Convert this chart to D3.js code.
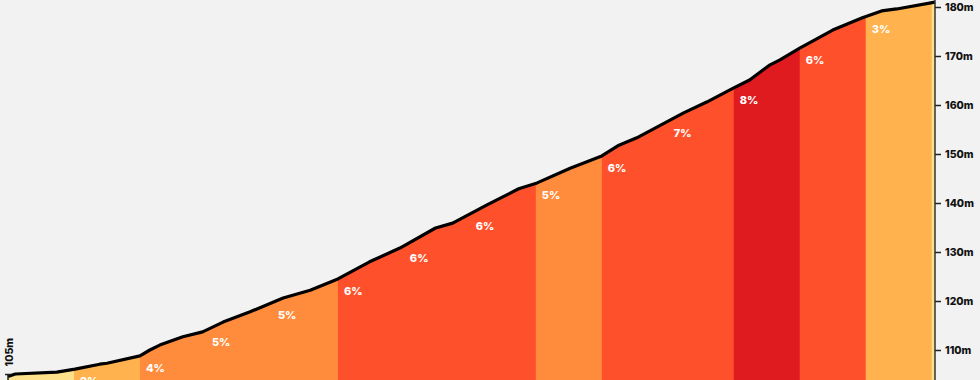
<!DOCTYPE html>
<html>
<head>
<meta charset="utf-8">
<script src="https://cdn.jsdelivr.net/npm/d3@7"></script>
<style>
  body { margin: 0; background: #f2f2f2; }
  svg { display: block; }
</style>
</head>
<body>
<div id="container"></div>
<script>
// profile: distance (km) and elevation (m)
let distKm = [0, 0.011, 0.074, 0.1015, 0.139, 0.15, 0.2, 0.215, 0.23, 0.265, 0.295, 0.326, 0.367, 0.417, 0.458, 0.5,
  0.548, 0.594, 0.648, 0.674, 0.726, 0.774, 0.802, 0.852, 0.9, 0.926, 0.953, 1.024, 1.059, 1.1, 1.124, 1.155,
  1.17, 1.2, 1.25, 1.295, 1.324, 1.347, 1.405];
let elevM = [104.6, 105.1, 105.5, 106.1, 107.1, 107.3, 108.8, 110.0, 111.0, 112.7, 113.7, 115.7, 117.8, 120.6, 122.2, 124.5,
  128.0, 130.8, 134.9, 135.9, 139.6, 142.9, 144.1, 147.1, 149.6, 151.8, 153.3, 158.4, 160.6, 163.5, 165.1, 168.2,
  169.2, 171.6, 175.3, 177.8, 179.2, 179.6, 181.0];

// 100 m sections and their gradient labels
let sectionStart = [0, 0.1, 0.2, 0.3, 0.4, 0.5, 0.6, 0.7, 0.8, 0.9, 1.0, 1.1, 1.2, 1.3, 1.4];
let sectionGrade = [1, 2, 4, 5, 5, 6, 6, 6, 5, 6, 7, 8, 6, 3, 1];

let elevTicks = [110, 120, 130, 140, 150, 160, 170, 180];
let startElev = 105;

let width = 980, height = 380;

let viz = d3.select("#container")
  .append("svg")
    .attr("width", width)
    .attr("height", height)
    .style("background-color", "#f2f2f2");

let x = d3.scaleLinear().domain([0, 1.405]).range([8, 935]);
let y = d3.scaleLinear().domain([110, 180]).range([350, 7]);

function gradeColor(g){
  if (g <= 1) return "#ffe08a";
  if (g <= 3) return "#ffb24d";
  if (g <= 5) return "#ff8c3c";
  if (g <= 7) return "#ff502c";
  return "#e01b1f";
}

let profile = distKm.map((d, i) => [d, elevM[i]]);
let elevAt = d3.scaleLinear().domain(distKm).range(elevM);

// <---------area clip---------->
let area = d3.area()
  .x(d => x(d[0]))
  .y0(height + 5)
  .y1(d => y(d[1]));

viz.append("clipPath")
    .attr("id", "profileClip")
  .append("path")
    .attr("d", area(profile));

// <---------sections---------->
let sections = sectionStart.map((s, i) => ({
  start: s,
  end: i < sectionStart.length - 1 ? sectionStart[i + 1] : 1.405,
  grade: sectionGrade[i]
}));

viz.append("g")
    .attr("clip-path", "url(#profileClip)")
  .selectAll("rect")
  .data(sections).enter()
  .append("rect")
    .attr("x", d => x(d.start))
    .attr("y", 0)
    .attr("width", d => x(d.end) - x(d.start) + 0.5)
    .attr("height", height + 5)
    .attr("fill", d => gradeColor(d.grade));

// <---------profile line---------->
viz.append("path")
  .attr("d", d3.line().x(d => x(d[0])).y(d => y(d[1]))(profile))
  .attr("fill", "none")
  .attr("stroke", "#000")
  .attr("stroke-width", 3.2)
  .attr("stroke-linejoin", "round");

// <---------gradient labels---------->
// labels whose glyphs would fall wholly below the frame are skipped
let labelY = d => y(elevAt(d.start)) + 16;

viz.append("g")
  .selectAll("text")
  .data(sections.filter(d => x(d.end) - x(d.start) > 20 && labelY(d) - 8 < height)).enter()
  .append("text")
    .attr("x", d => x(d.start) + 6)
    .attr("y", labelY)
    .text(d => d.grade + "%")
    .style("font-family", "Inter, 'DejaVu Sans', sans-serif")
    .style("font-weight", 800)
    .style("font-size", "11px")
    .style("fill", "#fff");

// <---------right axis---------->
let axisR = viz.append("g")
  .attr("transform", "translate(935,0)")
  .call(d3.axisRight(y).tickValues(elevTicks).tickSize(6).tickPadding(4).tickFormat(d => d + "m"));

axisR.select(".domain")
  .attr("d", "M0,0V" + height)
  .attr("stroke", "#333")
  .attr("stroke-width", 1.5);
axisR.selectAll(".tick line").attr("stroke", "#222").attr("stroke-width", 1.5);
axisR.selectAll(".tick text")
  .style("font-family", "Inter, 'DejaVu Sans', sans-serif")
  .style("font-weight", 800)
  .style("font-size", "10.5px")
  .style("fill", "#111");

// <---------start marker---------->
let y0 = y(startElev);
viz.append("line")
  .attr("x1", 8).attr("x2", 8)
  .attr("y1", y0).attr("y2", height)
  .attr("stroke", "#222").attr("stroke-width", 1.5);
viz.append("line")
  .attr("x1", 5).attr("x2", 11)
  .attr("y1", y0).attr("y2", y0)
  .attr("stroke", "#222").attr("stroke-width", 1.5);
viz.append("text")
  .attr("transform", "translate(12.5," + (y0 - 8) + ") rotate(-90)")
  .text(startElev + "m")
  .style("font-family", "Inter, 'DejaVu Sans', sans-serif")
  .style("font-weight", 800)
  .style("font-size", "10.5px")
  .style("fill", "#111");
</script>
</body>
</html>
